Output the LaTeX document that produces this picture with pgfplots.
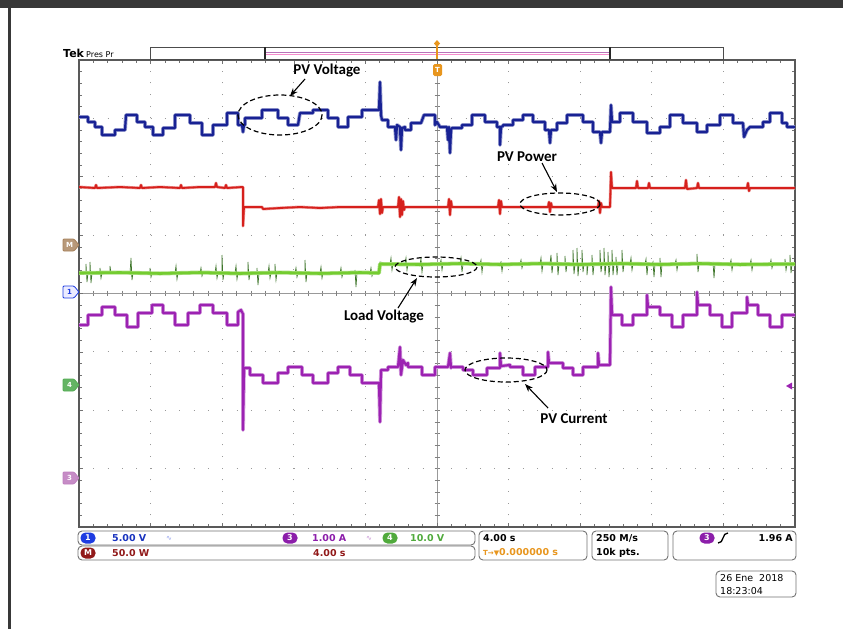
\documentclass[border=0pt]{standalone}
\usepackage{pgfplots}
\pgfplotsset{compat=1.18}
\usepackage{fontspec}
\setmainfont{DejaVu Sans}
\newfontfamily\annotfont{Carlito}
\usetikzlibrary{arrows.meta}
\definecolor{tblue}{RGB}{24,34,148}
\definecolor{tred}{RGB}{214,32,28}
\definecolor{tlime}{RGB}{116,204,48}
\definecolor{tgreendk}{RGB}{62,118,42}
\definecolor{tpurple}{RGB}{156,34,178}
\definecolor{torange}{RGB}{232,150,30}
\definecolor{chblue}{RGB}{30,60,225}
\definecolor{chpurple}{RGB}{140,30,170}
\definecolor{chgreen}{RGB}{80,170,60}
\definecolor{chred}{RGB}{145,25,25}
\newcommand\chmark[5]{%
  \draw[#3, fill=#2, line width=0.8pt, rounded corners=1pt] (63,#1-6) -- (74,#1-6) -- (79,#1) -- (74,#1+6) -- (63,#1+6) -- cycle;
  \node[font=\fontsize{7}{7}\selectfont\bfseries, text=#4, inner sep=0] at (69.5,#1) {#5};}
\newcommand\chip[4]{%
  \node[fill=#2, rounded corners=5pt, minimum width=15pt, minimum height=11pt, inner sep=0, text=white, font=\fontsize{8}{8}\selectfont\bfseries] at (#1) {#3#4};}
\begin{document}
\begin{tikzpicture}
\begin{scope}[x=1pt,y=-1pt]
  \fill[white] (0,0) rectangle (843,629);
  \fill[black!78] (0,0) rectangle (843,8);
  \fill[black!78] (8,0) rectangle (10.5,629);
  \draw[black!40, line width=0.6pt] (79,293) -- (795,293);
  \draw[black!40, line width=0.6pt] (437,60) -- (437,527);
  \foreach \k in {0,...,50} \draw[black!50, line width=0.6pt] (79+\k*14.32,290.5) -- ++(0,5);
  \foreach \k in {0,...,40} \draw[black!50, line width=0.6pt] (434.5,60+\k*11.675) -- ++(5,0);
\end{scope}
\begin{axis}[
  at={(79pt,-527pt)}, anchor=south west,
  scale only axis, width=716pt, height=467pt,
  xmin=-20, xmax=20, ymin=-4, ymax=4,
  xtick={-20,-16,...,20}, ytick={-4,-3,...,4},
  xticklabels={}, yticklabels={},
  minor x tick num=4, minor y tick num=4,
  tick align=inside, major tick length=4pt, minor tick length=3pt,
  tick style={black!55, line width=0.6pt},
  grid=major,
  x grid style={black!40, line width=0.9pt, dash pattern=on 0.9pt off 10.775pt},
  y grid style={black!40, line width=0.9pt, dash pattern=on 0.9pt off 13.42pt},
  axis line style={black!65, line width=1.3pt},
  x filter/.expression={(x-437)*40/716},
  y filter/.expression={(293.5-y)*8/467},
  clip=true,
]
% PV voltage (CH1)
\addplot[tblue, line width=2.2pt, line join=round, preaction={draw, tblue!45, line width=3.8pt}] coordinates {
(79,117)(88,117)(88,122)(95,122)(95,127)(102,127)(102,135)(115,135)(115,130)(125,130)(126,115)(137,115)(137,122)(145,122)(145,127)(153,127)(153,135)(163,135)(163,128)(175,128)(175,115)(190,115)(190,123)(202,123)(202,135)(213,135)(213,125)(227,125)(227,113)(238,113)(238,125)(242,125)(243,132)(244,125)(245,125)(245,118)(262,118)(262,110)(278,110)(278,118)(288,118)(288,125)(298,125)(300,113)(313,113)(313,110)(328,110)(328,118)(338,118)(338,127)(348,127)(348,117)(362,117)(362,110)(379,110)(380,82)(381,115)(382,120)(388,120)(388,127)(395,127)(396,140)(397,125)(400,127)(401,150)(402,128)(405,127)(405,130)(411,130)(411,123)(421,123)(424,115)(435,115)(435,125)(437,122)(440,127)(447,127)(448,140)(449,127)(450,153)(451,130)(452,128)(462,128)(462,125)(472,125)(472,115)(485,115)(485,122)(497,122)(497,127)(500,127)(500,145)(501,127)(503,126)(503,125)(513,125)(513,120)(523,120)(523,115)(533,115)(533,122)(545,122)(545,130)(549,130)(550,143)(551,130)(557,130)(557,123)(567,123)(567,115)(583,115)(583,122)(593,122)(593,132)(600,132)(601,143)(602,132)(610,132)(611,105)(612,122)(620,122)(620,113)(633,113)(633,122)(647,122)(647,133)(660,133)(660,127)(670,127)(670,115)(683,115)(683,123)(697,123)(697,132)(707,132)(707,125)(720,125)(720,115)(733,115)(733,123)(743,123)(744,137)(747,130)(750,127)(763,127)(763,122)(770,122)(770,113)(782,113)(782,123)(787,123)(787,127)(795,127)
};
% PV power (Math)
\addplot[tred, line width=1.8pt, line join=round, preaction={draw, tred!45, line width=3pt}] coordinates {
(79,187)(95,188)(96,185)(97,188)(120,187)(140,188)(141,185)(142,188)(160,187)(180,188)(181,185)(182,188)(200,187)(215,187)(216,183)(217,187)(225,188)(226,185)(227,188)(242,187)(243,187)(243,226)(244,207)(262,207)(263,209)(280,208)(300,207)(320,208)(340,207)(360,207)(378,207)(379,200)(380,214)(381,199)(382,213)(383,207)(398,207)(399,197)(400,217)(401,199)(402,215)(403,201)(404,210)(405,207)(430,207)(448,207)(449,199)(450,215)(451,201)(452,207)(498,207)(499,200)(500,214)(501,201)(502,207)(548,207)(549,202)(550,212)(551,203)(552,207)(598,207)(599,201)(600,213)(601,203)(602,207)(610,207)(611,172)(612,188)(630,188)(636,188)(637,181)(638,188)(648,188)(649,183)(650,188)(670,188)(685,188)(686,180)(687,189)(697,188)(698,183)(699,188)(720,188)(747,188)(748,183)(749,191)(750,188)(770,188)(795,188)
};
% Load voltage (CH4): spikes
\addplot[tgreendk, line width=0.7pt] coordinates {
(79,273)(86,273)(86,264)(87,282)(88,273)(90,273)(90,262)(91,283)(92,273)(100,273)(100,268)(101,278)(102,273)(110,273)(110,266)(111,273)(130,273)(131,258)(132,280)(133,273)(150,273)(150,268)(151,277)(152,273)(175,273)(176,266)(177,279)(178,273)(200,273)(201,268)(202,276)(203,273)(215,273)(216,266)(217,278)(218,273)(222,273)(222,255)(223,280)(224,273)(235,273)(236,266)(237,279)(238,273)(248,273)(248,262)(249,280)(250,273)(257,273)(257,268)(258,285)(259,273)(268,273)(269,266)(270,278)(271,273)(275,273)(275,264)(276,280)(277,273)(295,273)(296,268)(297,277)(298,273)(305,273)(305,260)(306,282)(307,273)(320,273)(321,267)(322,278)(323,273)(340,273)(341,268)(342,277)(343,273)(355,273)(355,270)(356,287)(357,273)(370,273)(371,268)(372,276)(373,273)(379,273)(380,262)(390,264)(391,258)(392,270)(393,264)(405,264)(406,258)(407,270)(408,264)(420,264)(421,259)(422,272)(423,264)(440,264)(441,260)(442,270)(443,264)(460,264)(461,258)(462,272)(463,264)(480,264)(481,260)(482,272)(483,264)(500,264)(501,262)(502,271)(503,264)(520,264)(521,260)(522,268)(523,264)(540,264)(541,258)(542,271)(543,264)(550,264)(551,255)(552,273)(553,264)(557,264)(557,253)(558,275)(559,264)(565,264)(565,256)(566,272)(567,264)(573,264)(573,250)(574,274)(575,264)(577,264)(577,248)(578,276)(579,264)(582,264)(582,250)(583,272)(584,264)(587,264)(587,275)(588,264)(592,264)(592,255)(593,275)(594,264)(600,264)(600,250)(601,272)(602,264)(604,264)(604,248)(605,275)(606,264)(608,264)(608,252)(609,277)(610,264)(612,264)(612,250)(613,275)(614,264)(616,264)(616,257)(617,275)(618,264)(622,264)(622,250)(623,272)(624,264)(630,264)(631,258)(632,270)(633,264)(645,264)(646,259)(647,275)(648,264)(652,264)(653,262)(654,277)(655,264)(660,264)(660,258)(661,277)(662,264)(675,264)(676,260)(677,270)(678,264)(697,264)(697,254)(698,272)(699,264)(713,264)(713,262)(714,278)(715,264)(730,264)(731,260)(732,270)(733,264)(750,264)(751,260)(752,270)(753,264)(770,264)(771,260)(772,268)(773,264)(785,264)(785,259)(786,270)(787,264)(790,264)(790,255)(791,273)(792,264)(795,264)
};
% Load voltage (CH4): trace body
\addplot[tlime, line width=2.6pt, line join=round, preaction={draw, tlime!60, line width=4pt}] coordinates {
(79,273)(120,272.5)(160,273.5)(200,272.5)(240,273.5)(280,272.5)(320,273.5)(360,272.5)(379,273)(380,264)(420,264.5)(460,263.5)(500,264.5)(540,263.5)(580,264.5)(620,263.5)(660,264.5)(700,263.5)(740,264.5)(795,264)
};
% PV current (CH3)
\addplot[tpurple, line width=2.2pt, line join=round, preaction={draw, tpurple!45, line width=3.8pt}] coordinates {
(79,325)(88,325)(88,315)(102,315)(102,307)(115,307)(115,315)(127,315)(127,327)(138,327)(138,313)(152,313)(152,305)(163,305)(163,313)(175,313)(175,325)(188,325)(188,313)(200,313)(200,305)(213,305)(213,313)(227,313)(227,325)(238,325)(238,312)(241,310)(243,314)(243,430)(244,368)(250,368)(250,375)(263,375)(263,383)(278,383)(278,373)(288,373)(288,367)(302,367)(302,375)(313,375)(313,383)(328,383)(328,373)(338,373)(338,367)(350,367)(350,375)(362,375)(362,383)(379,383)(380,422)(381,370)(388,370)(388,367)(398,367)(400,347)(401,375)(403,360)(406,365)(408,363)(408,367)(422,367)(422,375)(435,375)(435,367)(448,367)(450,353)(451,368)(451,367)(463,367)(463,370)(473,370)(473,375)(487,375)(487,368)(500,368)(500,353)(501,366)(510,365)(510,367)(523,367)(523,375)(535,375)(535,367)(548,367)(548,352)(549,363)(563,363)(563,368)(573,368)(573,375)(583,375)(583,367)(598,367)(598,353)(599,365)(610,365)(611,287)(612,315)(622,315)(622,325)(633,325)(633,315)(647,315)(647,295)(648,307)(660,307)(660,315)(672,315)(672,327)(683,327)(683,315)(697,315)(697,292)(698,305)(710,305)(710,315)(722,315)(722,327)(732,327)(732,313)(747,313)(747,297)(748,305)(758,305)(758,315)(770,315)(770,327)(782,327)(782,315)(795,315)
};
\end{axis}
\begin{scope}[x=1pt,y=-1pt]
  % header
  \node[anchor=base west, inner sep=0, font=\fontsize{11}{11}\selectfont\bfseries] at (63,57) {Tek};
  \node[anchor=base west, inner sep=0, font=\fontsize{8}{8}\selectfont] at (86,57) {Pres Pr};
  \draw[black!70, fill=white, line width=0.8pt] (150,47) rectangle (723,59);
  \draw[violet!55, line width=0.8pt] (266,52) -- (609,52);
  \draw[magenta!45, line width=0.6pt] (266,54.5) -- (609,54.5);
  \draw[black!85, line width=1.3pt] (265,47) -- (265,59) (610,47) -- (610,59);
  \draw[torange, line width=1.5pt] (437,44) -- (437,59);
  \fill[torange] (437,40) -- (440,43.5) -- (437,47) -- (434,43.5) -- cycle;
  \node[fill=torange, rounded corners=1.5pt, minimum width=9pt, minimum height=12pt, inner sep=0, text=white, font=\fontsize{7}{7}\selectfont\bfseries] at (437.5,70) {T};
  % channel markers
  \chmark{245}{brown!60!gray!80}{brown!60!gray}{white}{M}
  \chmark{292}{blue!8}{chblue}{chblue}{1}
  \chmark{385}{green!35!gray!90}{green!35!gray}{white}{4}
  \chmark{478}{violet!45!white}{violet!50}{white}{3}
  \fill[tpurple] (786,386) -- (792,382.5) -- (792,389.5) -- cycle;
  % annotations
  \begin{scope}[line width=1.2pt, dash pattern=on 5pt off 3pt]
    \draw (280,115) ellipse [x radius=42, y radius=20];
    \draw (560,204) ellipse [x radius=40, y radius=11];
    \draw (436,267) ellipse [x radius=41, y radius=10];
    \draw (506,370) ellipse [x radius=41, y radius=12];
  \end{scope}
  \begin{scope}[line width=1.1pt, -{Stealth[length=8pt,width=6pt]}]
    \draw (305,79) -- (290,96);
    \draw (542,163) -- (557,192);
    \draw (398,308) -- (417,278);
    \draw (548,408) -- (525,384);
  \end{scope}
  \begin{scope}[every node/.style={inner sep=0, font=\annotfont\fontsize{15}{15}\selectfont\bfseries}]
    \node at (327,71) {PV Voltage};
    \node at (527,157) {PV Power};
    \node at (384,317) {Load Voltage};
    \node at (574,419) {PV Current};
  \end{scope}
  % status bar
  \begin{scope}[black!55, line width=0.9pt, rounded corners=4pt]
    \draw[fill=white] (78,531) rectangle (475,545);
    \draw[fill=white] (78,546) rectangle (475,560);
    \draw[fill=white] (479,531) rectangle (587,560);
    \draw[fill=white] (592,531) rectangle (668,560);
    \draw[fill=white] (673,531) rectangle (796,560);
    \draw[fill=white] (716,571) rectangle (796,597);
  \end{scope}
  \chip{88,538}{chblue}{1}{}
  \chip{290,538}{chpurple}{3}{}
  \chip{390,538}{chgreen}{4}{}
  \chip{88,553}{chred}{M}{}
  \chip{707,538}{chpurple}{3}{}
  \begin{scope}[every node/.style={inner sep=0, anchor=west, font=\fontsize{9.5}{9.5}\selectfont\bfseries}]
    \node[text=chblue!85!black] at (112,538) {5.00 V};
    \node[text=chblue!50, font=\fontsize{7}{7}\selectfont] at (166,538) {∿};
    \node[text=chpurple] at (312,538) {1.00 A};
    \node[text=chpurple!50, font=\fontsize{7}{7}\selectfont] at (366,538) {∿};
    \node[text=chgreen] at (410,538) {10.0 V};
    \node[text=chred] at (112,553) {50.0 W};
    \node[text=chred] at (313,553) {4.00 s};
    \node[text=black] at (483,538) {4.00 s};
    \node[text=torange] at (483,552.5) {\fontsize{7}{7}\selectfont T→▼\fontsize{9.5}{9.5}\selectfont0.000000 s};
    \node[text=black] at (596,538) {250 M/s};
    \node[text=black] at (596,552.5) {10k pts.};
    \node[text=black, anchor=east] at (793,538) {1.96 A};
    \node[text=black, font=\fontsize{9.5}{9.5}\selectfont] at (720,578) {26 Ene\ \ 2018};
    \node[text=black, font=\fontsize{9.5}{9.5}\selectfont] at (720,591) {18:23:04};
  \end{scope}
  \draw[black, line width=1.3pt] (718,543) .. controls (721,543) and (722,541) .. (723,538) .. controls (724,535) and (725,533) .. (728,533);
\end{scope}
\end{tikzpicture}
\end{document}
